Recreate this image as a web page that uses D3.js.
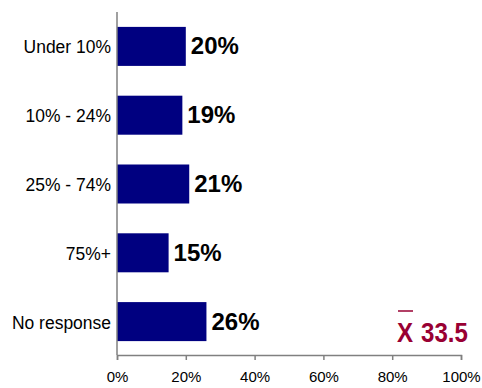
<!DOCTYPE html>
<html>
<head>
<meta charset="utf-8">
<script src="https://cdn.jsdelivr.net/npm/d3@7"></script>
<style>
  html, body { margin: 0; padding: 0; background: #fff; }
  svg { display: block; }
</style>
</head>
<body>
<svg id="chart" width="482" height="388"></svg>
<script>
// Share of responses by group
const categories = ["Under 10%", "10% - 24%", "25% - 74%", "75%+", "No response"];
const values = [20, 19, 21, 15, 26];
const tickValues = [0, 20, 40, 60, 80, 100];
const meanValue = 33.5;

const svg = d3.select("#chart");
const plotLeft = 117, plotRight = 461, plotTop = 12, plotBottom = 355;
const fontFamily = "Liberation Sans, Arial, sans-serif";

const x = d3.scaleLinear().domain([0, 100]).range([plotLeft, plotRight]);
const y = d3.scaleBand().domain(categories).range([plotTop, plotBottom + 1])
  .paddingInner(0.433).paddingOuter(0.2165);

const axisColor = "#808080";

// bars
svg.append("g").selectAll("rect").data(categories).join("rect")
  .attr("x", x(0))
  .attr("y", d => y(d))
  .attr("width", (d, i) => x(values[i]) - x(0))
  .attr("height", y.bandwidth())
  .attr("fill", "#000080");

// value labels
svg.append("g").selectAll("text").data(categories).join("text")
  .attr("x", (d, i) => x(values[i]) + 5)
  .attr("y", d => y(d) + y.bandwidth() / 2 + 8)
  .attr("font-family", fontFamily)
  .attr("font-weight", "bold")
  .attr("font-size", 24)
  .attr("fill", "#000")
  .text((d, i) => values[i] + "%");

// category labels (slightly condensed)
svg.append("g").selectAll("text").data(categories).join("text")
  .attr("transform", d => `translate(${plotLeft - 6},${y(d) + y.bandwidth() / 2 + 7}) scale(0.92,1)`)
  .attr("text-anchor", "end")
  .attr("font-family", fontFamily)
  .attr("font-size", 19)
  .attr("fill", "#000")
  .text(d => d);

// x axis
const xAxis = d3.axisBottom(x).tickValues(tickValues).tickFormat(d => d + "%").tickSize(5).tickPadding(11);
const gx = svg.append("g").attr("transform", `translate(0,${plotBottom})`).call(xAxis);
gx.select(".domain").attr("stroke", axisColor).attr("stroke-width", 1.5);
gx.selectAll(".tick line").attr("stroke", axisColor).attr("stroke-width", 1.5);
gx.selectAll(".tick text")
  .attr("font-family", fontFamily)
  .attr("font-size", 15)
  .attr("fill", "#000");

// y axis line
svg.append("line")
  .attr("x1", plotLeft).attr("x2", plotLeft)
  .attr("y1", plotTop).attr("y2", plotBottom)
  .attr("stroke", axisColor).attr("stroke-width", 1.5);

// mean annotation
const meanColor = "#990033";
const mean = svg.append("g");
mean.append("text")
  .attr("transform", "translate(397,342) scale(0.86,1)")
  .attr("font-family", fontFamily)
  .attr("font-weight", "bold")
  .attr("font-size", 28)
  .attr("fill", meanColor)
  .text("X");
mean.append("text")
  .attr("transform", "translate(421,342) scale(0.86,1)")
  .attr("font-family", fontFamily)
  .attr("font-weight", "bold")
  .attr("font-size", 28)
  .attr("fill", meanColor)
  .text(meanValue.toFixed(1));
mean.append("line")
  .attr("x1", 398).attr("x2", 413)
  .attr("y1", 311).attr("y2", 311)
  .attr("stroke", meanColor).attr("stroke-width", 1.5);
</script>
</body>
</html>
